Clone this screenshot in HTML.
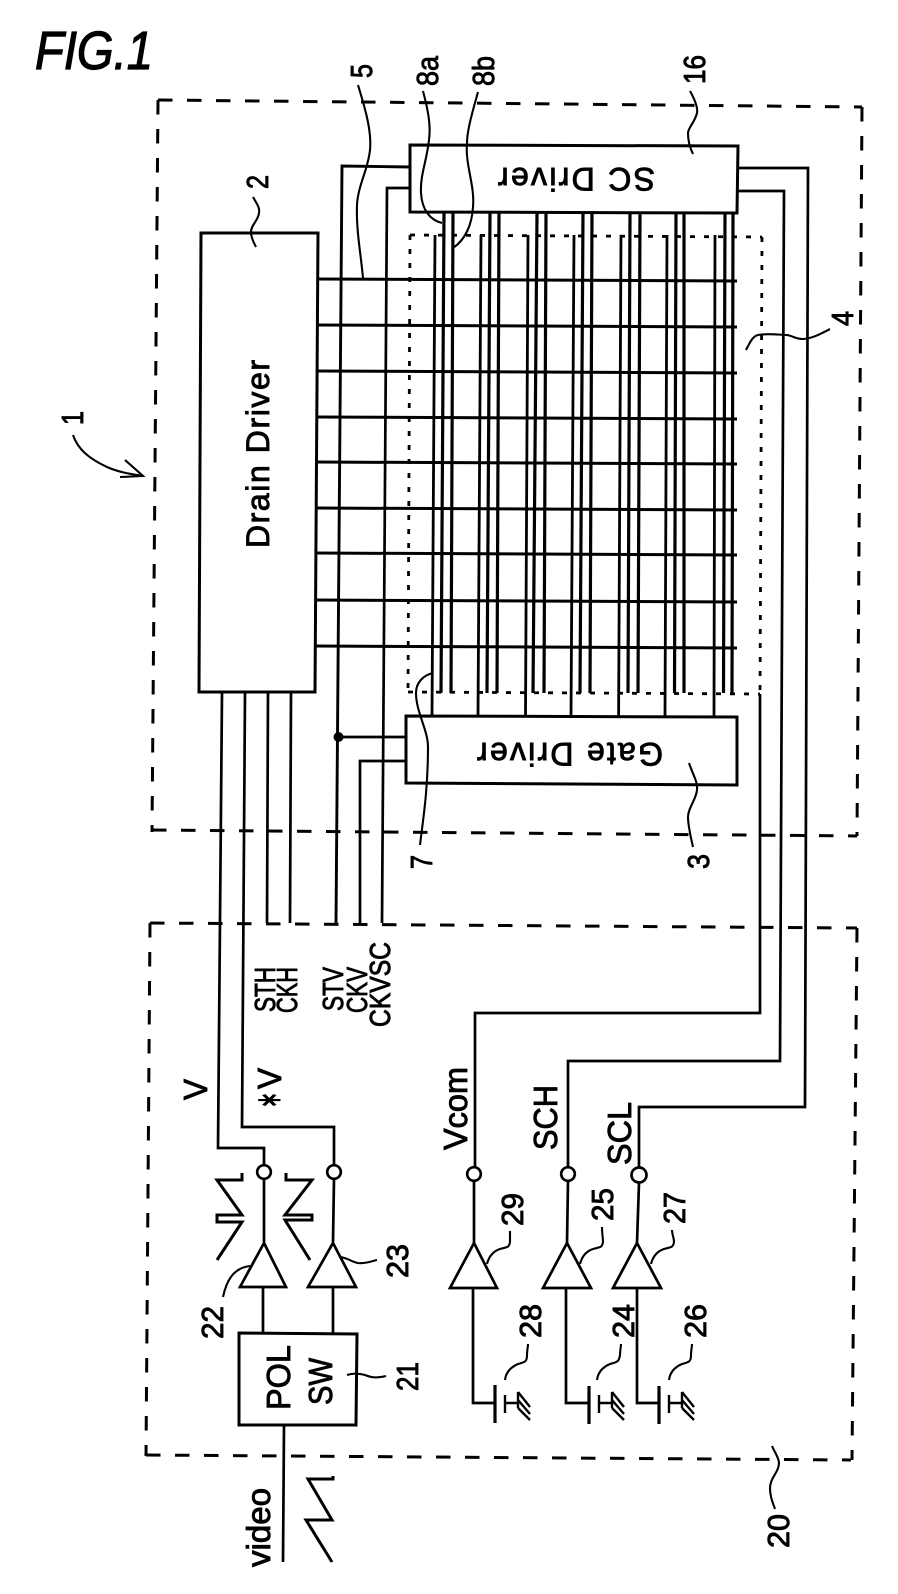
<!DOCTYPE html>
<html><head><meta charset="utf-8"><style>
html,body{margin:0;padding:0;background:#fff}
svg{display:block}
text{font-family:"Liberation Sans",sans-serif;fill:#000;stroke:#000;stroke-width:.9}
</style></head><body>
<svg xmlns="http://www.w3.org/2000/svg" width="898" height="1594" viewBox="0 0 898 1594">
<rect width="898" height="1594" fill="#fff"/>
<g fill="none" stroke="#000" stroke-linejoin="miter">
<!-- dashed boxes -->
<g stroke-width="3" stroke-dasharray="14.5 14.5">
<path d="M158 100L862 107"/><path d="M158 100L152 832"/><path d="M152 830L857 836"/><path d="M862 107L857 836"/>
<path d="M150 923L857 928"/><path d="M150 923L146 1456"/><path d="M146 1455L851 1460"/><path d="M857 928L852 1460"/>
</g>
<!-- dotted panel -->
<g stroke-width="2.8" stroke-dasharray="5 9">
<path d="M410 235L762 237"/><path d="M410 235L408 693"/><path d="M408 692L760 694"/><path d="M762 237L760 694"/>
</g>
<!-- boxes -->
<g stroke-width="3" fill="#fff">
<path d="M201 233L318 233L315 692L199 692Z"/>
</g>
<!-- data lines -->
<g stroke-width="3">
<path d="M317 279L737 281"/><path d="M317 325L737 327"/><path d="M317 371L737 373"/><path d="M317 417L737 419"/><path d="M316 462L737 464"/><path d="M316 508L737 510"/><path d="M316 553L737 555"/><path d="M315 600L737 602"/><path d="M315 646L737 648"/>
</g>
<!-- SC pairs -->
<g stroke-width="3.2">
<path d="M444 213L441 693M453 213L451 693M490 213L487 693M499 213L497 693M537 213L533 693M546 213L544 693M583 213L580 693M592 213L590 693M630 213L628 693M640 213L638 693M676 213L674.5 693M684 213L684 693M725 213L723.5 693M733 213L732 693"/>
</g>
<!-- Gate lines -->
<g stroke-width="2.8">
<path d="M435 235L432 716M481 235L478 716M528 235L525.5 716M574 235L571 716M621 235L618.6 716M667 235L665 716M715 235L714 716"/>
</g>
<path stroke-width="3" fill="#fff" d="M410 145L738 146L737 213L410 212Z"/>
<path stroke-width="3" fill="#fff" d="M406 716L737 717L737 785L406 783Z"/>
<!-- drain outputs -->
<g stroke-width="2.7">
<path d="M222 692L218 1148L264 1148L264 1165"/>
<path d="M245 692L242 1127L334 1127L334 1165"/>
<path d="M268 692L267 923"/>
<path d="M291 692L290 923"/>
<path d="M410 167L342 166L336 923" stroke-width="2.9"/>
<path d="M338.5 737L406 737"/>
<path d="M406 761L360 761L360 923"/>
<path d="M410 188L387 188L382 923"/>
<path d="M760 694L760 1013L475 1013L475 1167"/>
<path d="M737 191L784 191L780 1061L568 1061L568 1167"/>
<path d="M737 168L808 168L805 1107L639 1107L639 1168"/>
</g>
<circle cx="338.5" cy="737" r="5" fill="#000" stroke="none"/>
<!-- left circuit -->
<g stroke-width="2.7">
<circle cx="264" cy="1172" r="6.8" fill="#fff"/><circle cx="334" cy="1172" r="6.8" fill="#fff"/>
<circle cx="474" cy="1174" r="6.8" fill="#fff"/><circle cx="568" cy="1174" r="6.8" fill="#fff"/><circle cx="639" cy="1175" r="7.5" fill="#fff"/>
<path d="M264 1179L264 1242M334 1179L333 1242M474 1181L474 1243M568 1181L567 1243M639 1183L637 1243"/>
<path d="M264 1243L286 1287L240 1287Z" fill="#fff"/>
<path d="M333 1243L356 1287L308 1287Z" fill="#fff"/>
<path d="M474 1243L497 1288L450 1288Z" fill="#fff"/>
<path d="M567 1243L591 1288L543 1288Z" fill="#fff"/>
<path d="M637 1243L661 1288L613 1288Z" fill="#fff"/>
<path d="M263 1287L263 1333M333 1287L333 1333"/>
<path d="M239 1333L357 1334L356 1425L239 1425Z" stroke-width="3"/>
<path d="M284 1425L283 1562"/>
<path d="M473 1288L473 1403L495 1403"/>
<path d="M566 1288L566 1403L589 1403"/>
<path d="M637 1288L637 1403L659 1403"/>
<!-- batteries -->
<path stroke-width="3.2" d="M495 1385V1423M589 1386V1424M659 1386V1424"/>
<path stroke-width="2.4" d="M505 1395V1413M505 1403H518M518 1392V1408M518 1392L530 1407M518 1400L530 1414M518 1408L530 1420"/>
<path stroke-width="2.4" d="M599 1395V1413M599 1403H612M612 1392V1408M612 1392L624 1407M612 1400L624 1414M612 1408L624 1420"/>
<path stroke-width="2.4" d="M669 1395V1413M669 1403H682M682 1392V1408M682 1392L694 1407M682 1400L694 1414M682 1408L694 1420"/>
<!-- sawtooth -->
<path stroke-width="3" d="M242 1173V1180H217L242 1215H217V1222H242L217 1260"/>
<path stroke-width="3" d="M286 1173V1180H312L285 1215H312V1220H285L310 1260"/>
<path stroke-width="3" d="M333 1476V1479H308L332 1520H306L332 1562"/>
<!-- leaders -->
<g stroke-width="2.1">
<path d="M358 85C364 105 372 130 370 150C368 170 358 185 357 205C356 230 361 255 363 278"/>
<path d="M423 91C428 110 431 125 429 140C427 160 420 175 421 193C422 210 430 220 442 223"/>
<path d="M478 92C473 110 467 130 467 143C465 165 475 185 473 207C472 225 465 240 453 248"/>
<path d="M690 91C695 100 698 108 697 113C695 122 688 128 688 133C688 142 691 150 693 154"/>
<path d="M746 350C750 342 753 336 758 335C768 333 780 335 787 335C793 336 796 339 802 339C812 339 822 333 830 329"/>
<path d="M433 673C424 675 416 682 416 693C416 712 428 730 428 747C428 790 423 820 420 845"/>
<path d="M689 763C693 775 698 782 697 790C696 800 688 808 688 817C688 826 691 838 693 847"/>
<path d="M253 197C257 204 260 208 259 213C258 221 251 225 251 232C251 238 254 243 256 247"/>
<path d="M772 1446C775 1453 779 1458 779 1463C779 1472 770 1478 770 1488C770 1497 773 1503 775 1509"/>
<path d="M73 435C78 450 90 459 107 467C118 472 130 474 143 476M125 460L143 476L120 477"/>
<path d="M223 1297C226 1283 232 1268 250 1266"/>
<path d="M340 1257C348 1258 352 1262 358 1263C366 1264 372 1261 377 1260"/>
<path d="M347 1375C353 1373 358 1373 365 1375C372 1378 378 1378 386 1376"/>
<path d="M487 1264C489 1256 494 1251 500 1249C507 1247 509 1248 510 1242C510 1238 510 1234 510 1231"/>
<path d="M580 1264C582 1256 587 1251 593 1249C600 1247 602 1248 603 1242C603 1238 602 1234 602 1227"/>
<path d="M651 1264C653 1256 658 1251 664 1249C671 1247 673 1248 674 1242C674 1238 672 1234 672 1230"/>
<path d="M505 1380C506 1372 511 1367 518 1364C525 1362 527 1362 527 1355C527 1350 528 1347 528 1344"/>
<path d="M597 1380C598 1372 603 1367 610 1364C617 1362 619 1362 620 1355C620 1350 621 1347 621 1344"/>
<path d="M669 1380C670 1372 675 1367 682 1364C689 1362 691 1362 691 1355C691 1350 692 1347 692 1344"/>
</g>
</g>
<!-- Title -->
<text x="35" y="69" font-size="54" font-style="italic" textLength="118" lengthAdjust="spacingAndGlyphs" style="stroke-width:1.2">FIG.1</text>
<!-- Rotated labels -->
<g font-size="32">
<text transform="translate(269,548) rotate(-90)" textLength="188" lengthAdjust="spacing">Drain Driver</text>
<text transform="translate(655,168) rotate(180)" textLength="157" lengthAdjust="spacing">SC Driver</text>
<text transform="translate(663,743) rotate(180)" textLength="186" lengthAdjust="spacing">Gate Driver</text>
</g>
<g font-size="31">
<text transform="translate(372,78) rotate(-90)" textLength="14" lengthAdjust="spacingAndGlyphs">5</text>
<text transform="translate(438,86) rotate(-90)" textLength="30" lengthAdjust="spacingAndGlyphs">8a</text>
<text transform="translate(494,86) rotate(-90)" textLength="30" lengthAdjust="spacingAndGlyphs">8b</text>
<text transform="translate(705,84) rotate(-90)" textLength="29" lengthAdjust="spacingAndGlyphs">16</text>
<text transform="translate(268,189) rotate(-90)" textLength="14" lengthAdjust="spacingAndGlyphs">2</text>
<text transform="translate(83,425) rotate(-90)" textLength="14" lengthAdjust="spacingAndGlyphs">1</text>
<text transform="translate(853,326) rotate(-90)" textLength="15" lengthAdjust="spacingAndGlyphs">4</text>
<text transform="translate(432,869) rotate(-90)" textLength="14" lengthAdjust="spacingAndGlyphs">7</text>
<text transform="translate(709,869) rotate(-90)" textLength="15" lengthAdjust="spacingAndGlyphs">3</text>
<text transform="translate(789,1548) rotate(-90)" textLength="34" lengthAdjust="spacingAndGlyphs">20</text>
<text transform="translate(223,1339) rotate(-90)" textLength="33" lengthAdjust="spacingAndGlyphs">22</text>
<text transform="translate(408,1278) rotate(-90)" textLength="34" lengthAdjust="spacingAndGlyphs">23</text>
<text transform="translate(418,1391) rotate(-90)" textLength="29" lengthAdjust="spacingAndGlyphs">21</text>
<text transform="translate(523,1226) rotate(-90)" textLength="33" lengthAdjust="spacingAndGlyphs">29</text>
<text transform="translate(613,1221) rotate(-90)" textLength="33" lengthAdjust="spacingAndGlyphs">25</text>
<text transform="translate(685,1224) rotate(-90)" textLength="32" lengthAdjust="spacingAndGlyphs">27</text>
<text transform="translate(541,1338) rotate(-90)" textLength="34" lengthAdjust="spacingAndGlyphs">28</text>
<text transform="translate(634,1338) rotate(-90)" textLength="34" lengthAdjust="spacingAndGlyphs">24</text>
<text transform="translate(706,1338) rotate(-90)" textLength="34" lengthAdjust="spacingAndGlyphs">26</text>
</g>
<g font-size="29">
<text transform="translate(275,1012) rotate(-90)" textLength="45" lengthAdjust="spacingAndGlyphs">STH</text>
<text transform="translate(297,1013) rotate(-90)" textLength="46" lengthAdjust="spacingAndGlyphs">CKH</text>
<text transform="translate(343,1011) rotate(-90)" textLength="44" lengthAdjust="spacingAndGlyphs">STV</text>
<text transform="translate(367,1013) rotate(-90)" textLength="46" lengthAdjust="spacingAndGlyphs">CKV</text>
<text transform="translate(390,1027) rotate(-90)" textLength="85" lengthAdjust="spacingAndGlyphs">CKVSC</text>
</g>
<g font-size="33">
<text transform="translate(207,1100) rotate(-90)" textLength="21" lengthAdjust="spacingAndGlyphs">V</text>
<text transform="translate(281,1089) rotate(-90)" textLength="21" lengthAdjust="spacingAndGlyphs">V</text>
<text transform="translate(467,1150) rotate(-90)" textLength="83" lengthAdjust="spacingAndGlyphs">Vcom</text>
<text transform="translate(557,1150) rotate(-90)" textLength="65" lengthAdjust="spacingAndGlyphs">SCH</text>
<text transform="translate(631,1165) rotate(-90)" textLength="63" lengthAdjust="spacingAndGlyphs">SCL</text>
<text transform="translate(270,1567) rotate(-90)" textLength="79" lengthAdjust="spacingAndGlyphs">video</text>
<text transform="translate(290,1410) rotate(-90)" textLength="65" lengthAdjust="spacingAndGlyphs">POL</text>
<text transform="translate(332,1405) rotate(-90)" textLength="47" lengthAdjust="spacingAndGlyphs">SW</text>
</g>
<text transform="translate(280,1108) rotate(-90)" font-size="34" style="font-family:'DejaVu Sans',sans-serif;stroke-width:1" textLength="16" lengthAdjust="spacingAndGlyphs">∗</text>
</svg>
</body></html>
